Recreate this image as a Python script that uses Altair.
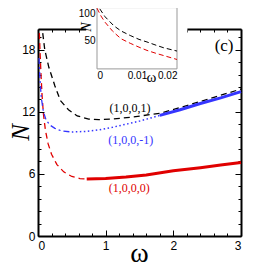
import altair as alt
import pandas as pd

W, H = 203, 207

# ---- main panel data ----
om_k1 = [0.07, 0.1, 0.16, 0.25, 0.33, 0.45, 0.58, 0.75, 0.9, 1.1, 1.4, 1.8, 2.2, 2.6, 3.0]
N_k1 = [19.6, 18.0, 16.3, 14.5, 13.1, 12.2, 11.6, 11.3, 11.25, 11.3, 11.5, 11.85, 12.6, 13.4, 14.2]

om_km1_dd = [0.015, 0.03, 0.05, 0.08, 0.12, 0.18, 0.25, 0.35, 0.5]
N_km1_dd = [17.2, 15.0, 13.3, 12.0, 11.2, 10.7, 10.4, 10.15, 10.05]
om_km1_dot = [0.5, 0.7, 0.9, 1.1, 1.3, 1.5, 1.8]
N_km1_dot = [10.05, 10.1, 10.25, 10.5, 10.8, 11.1, 11.65]
om_km1_sol = [1.8, 2.1, 2.4, 2.7, 3.0]
N_km1_sol = [11.65, 12.2, 12.8, 13.35, 13.95]

om_k0_dash = [0.02, 0.03, 0.045, 0.06, 0.08, 0.11, 0.15, 0.2, 0.28, 0.38, 0.5, 0.62, 0.72]
N_k0_dash = [19.6, 17.8, 15.5, 13.6, 11.8, 10.2, 8.9, 7.9, 6.9, 6.2, 5.75, 5.55, 5.5]
om_k0_sol = [0.72, 1.0, 1.3, 1.6, 2.0, 2.4, 2.7, 3.0]
N_k0_sol = [5.5, 5.55, 5.7, 5.9, 6.3, 6.6, 6.85, 7.1]

labels = ["(1,0,0,1)", "(1,0,0,-1)", "(1,0,0,0)"]
label_om = [1.36, 1.37, 1.35]
label_N = [12.4, 9.3, 4.6]
label_col = ["#000000", "#3535ff", "#e00000"]

x_all = [round(i * 0.2, 1) for i in range(16)]
y_all = [round(i * 1.2, 1) for i in range(17)]

# ---- inset data ----
om_in_k1 = [0.0007, 0.002, 0.0042, 0.006, 0.0083, 0.0105, 0.0125, 0.015, 0.0167, 0.02]
N_in_k1 = [99, 87, 73, 65, 58, 52, 48, 42.5, 39, 34]
om_in_k0 = [0.0, 0.001, 0.002, 0.004, 0.006, 0.0083, 0.0105, 0.0125, 0.015, 0.0167, 0.02]
N_in_k0 = [100, 88, 78.5, 64, 53, 46, 40, 35, 30, 27, 21]
in_x_ticks = [0, 0.01, 0.02]
in_y_ticks = [50, 100]

RED = "#e00000"
BLUE = "#3535ff"

IN_DY = 2.5  # inset nudged down to stay inside the page
xs = alt.Scale(domain=[0, 3], nice=False, zero=False)
ys = alt.Scale(domain=[0, 20], nice=False, zero=False)
xin = alt.Scale(domain=[0, 0.02], range=[59, 139], nice=False, zero=False)
yin = alt.Scale(domain=[6.5, 101], range=[37.4 + IN_DY, -23.9 + IN_DY], nice=False, zero=False)

tx = "abs(datum.value - round(datum.value)) < 0.001"
ty = "abs(datum.value/6 - round(datum.value/6)) < 0.001"


def seg(om, n):
    return pd.DataFrame({"omega": om, "N": n})


def main_x(axis=None):
    return alt.X("omega:Q", scale=xs, axis=axis)


def main_y(axis=None):
    return alt.Y("N:Q", scale=ys, axis=axis)


common_axis = dict(domainColor="black", domainWidth=2, tickColor="black", tickWidth=1,
                   grid=False, labelFont="Liberation Sans", labelFontSize=12,
                   labelColor="black", format="~g")

ax_bottom = alt.Axis(orient="bottom", values=x_all,
                     labelExpr=f"{tx} ? datum.label : ''",
                     tickSize={"condition": {"test": tx, "value": -6}, "value": -3},
                     labelPadding=10, title="ω", titleFont="Liberation Serif",
                     titleFontSize=28, titleFontWeight="normal", titleColor="black",
                     titleX=101, titleY=17, titleBaseline="middle", titleAlign="center",
                     **common_axis)
ax_left = alt.Axis(orient="left", values=y_all,
                   labelExpr=f"{ty} ? datum.label : ''",
                   tickSize={"condition": {"test": ty, "value": -6}, "value": -3},
                   labelPadding=9, title="N", titleFont="Liberation Serif",
                   titleFontSize=25, titleFontStyle="italic", titleFontWeight="normal",
                   titleColor="black", titleX=-18, titleY=103, titleAngle=270,
                   titleBaseline="middle", titleAlign="center",
                   **common_axis)
ax_top = alt.Axis(orient="top", values=x_all, labels=False, title=None,
                  tickSize={"condition": {"test": tx, "value": -6}, "value": -3},
                  **common_axis)
ax_right = alt.Axis(orient="right", values=y_all, labels=False, title=None,
                    tickSize={"condition": {"test": ty, "value": -6}, "value": -3},
                    **common_axis)

# main lines
red_dash = alt.Chart(seg(om_k0_dash, N_k0_dash)).mark_line(
    color=RED, strokeWidth=1.3, strokeDash=[6, 4]).encode(x=main_x(ax_bottom), y=main_y(ax_left))
red_sol = alt.Chart(seg(om_k0_sol, N_k0_sol)).mark_line(
    color=RED, strokeWidth=3).encode(x=main_x(ax_top), y=main_y(ax_right))
black_dash = alt.Chart(seg(om_k1, N_k1)).mark_line(
    color="black", strokeWidth=1.3, strokeDash=[6, 4]).encode(x=main_x(), y=main_y())
blue_dd = alt.Chart(seg(om_km1_dd, N_km1_dd)).mark_line(
    color=BLUE, strokeWidth=1.3, strokeDash=[6, 3, 2, 3]).encode(x=main_x(), y=main_y())
blue_dot = alt.Chart(seg(om_km1_dot, N_km1_dot)).mark_line(
    color=BLUE, strokeWidth=1.5, strokeDash=[1.5, 2.5]).encode(x=main_x(), y=main_y())
blue_sol = alt.Chart(seg(om_km1_sol, N_km1_sol)).mark_line(
    color=BLUE, strokeWidth=3).encode(x=main_x(), y=main_y())

lab_df = pd.DataFrame({"label": labels, "omega": label_om, "N": label_N, "col": label_col})
lab_text = alt.Chart(lab_df).mark_text(font="Liberation Serif", fontSize=12,
                                       baseline="middle", align="center").encode(
    x=main_x(), y=main_y(), text="label:N", color=alt.Color("col:N", scale=None))

panel_df = pd.DataFrame({"t": ["(c)"], "omega": [2.75], "N": [18.35]})
panel_text = alt.Chart(panel_df).mark_text(font="Liberation Serif", fontSize=17,
                                           baseline="middle", align="center",
                                           color="black").encode(
    x=main_x(), y=main_y(), text="t:N")


# inset
def in_x(axis=None):
    return alt.X("omega:Q", scale=xin, axis=axis)


def in_y(axis=None):
    return alt.Y("N:Q", scale=yin, axis=axis)


bg_df = pd.DataFrame({"x1": [-0.0027], "x2": [0.0226], "y1": [-14], "y2": [115]})
inset_bg = alt.Chart(bg_df).mark_rect(fill="white", stroke=None).encode(
    x=alt.X("x1:Q", scale=xin, axis=None), x2="x2:Q",
    y=alt.Y("y1:Q", scale=yin, axis=None), y2="y2:Q")

fr_df = pd.DataFrame({"x1": [0.0], "x2": [0.02], "y1": [6.5], "y2": [101]})
inset_frame = alt.Chart(fr_df).mark_rect(fill=None, stroke="#999999", strokeWidth=1).encode(
    x=alt.X("x1:Q", scale=xin, axis=None), x2="x2:Q",
    y=alt.Y("y1:Q", scale=yin, axis=None), y2="y2:Q")

in_ax_x = alt.Axis(orient="bottom", offset=-(H - 37.4 - IN_DY), values=in_x_ticks, format="~g",
                   domain=False, ticks=False, labelFont="Liberation Sans", labelFontSize=10,
                   labelColor="black", labelPadding=2, grid=False, zindex=1,
                   title="ω", titleFont="Liberation Serif", titleFontSize=15,
                   titleFontWeight="normal", titleColor="black", titleX=113, titleY=8,
                   titleBaseline="middle", titleAlign="center")
in_ax_y = alt.Axis(orient="left", offset=-59, values=in_y_ticks, domain=False, ticks=False,
                   labelFont="Liberation Sans", labelFontSize=10, labelColor="black",
                   labelPadding=2, grid=False, zindex=1,
                   labelBaseline={"condition": {"test": "datum.value >= 100", "value": "top"},
                                  "value": "middle"},
                   title="N", titleFont="Liberation Serif", titleFontSize=14,
                   titleFontStyle="italic", titleFontWeight="normal", titleColor="black",
                   titleX=-11, titleY=-5 + IN_DY, titleAngle=270, titleBaseline="middle",
                   titleAlign="center")

in_black = alt.Chart(seg(om_in_k1, N_in_k1)).mark_line(
    color="black", strokeWidth=1, strokeDash=[5, 3]).encode(x=in_x(in_ax_x), y=in_y(in_ax_y))
in_red = alt.Chart(seg(om_in_k0, N_in_k0)).mark_line(
    color=RED, strokeWidth=1, strokeDash=[5, 3]).encode(x=in_x(), y=in_y())

chart = alt.layer(
    red_dash, red_sol, black_dash, blue_dd, blue_dot, blue_sol, lab_text, panel_text,
    inset_bg, inset_frame, in_black, in_red
).resolve_scale(x="independent", y="independent").properties(
    width=W, height=H,
    autosize=alt.AutoSizeParams(type="none"),
    padding={"left": 30, "top": 21, "right": 24, "bottom": 34},
).configure_view(stroke=None)

chart.save("out.html", embed_options={"renderer": "svg", "actions": False})
